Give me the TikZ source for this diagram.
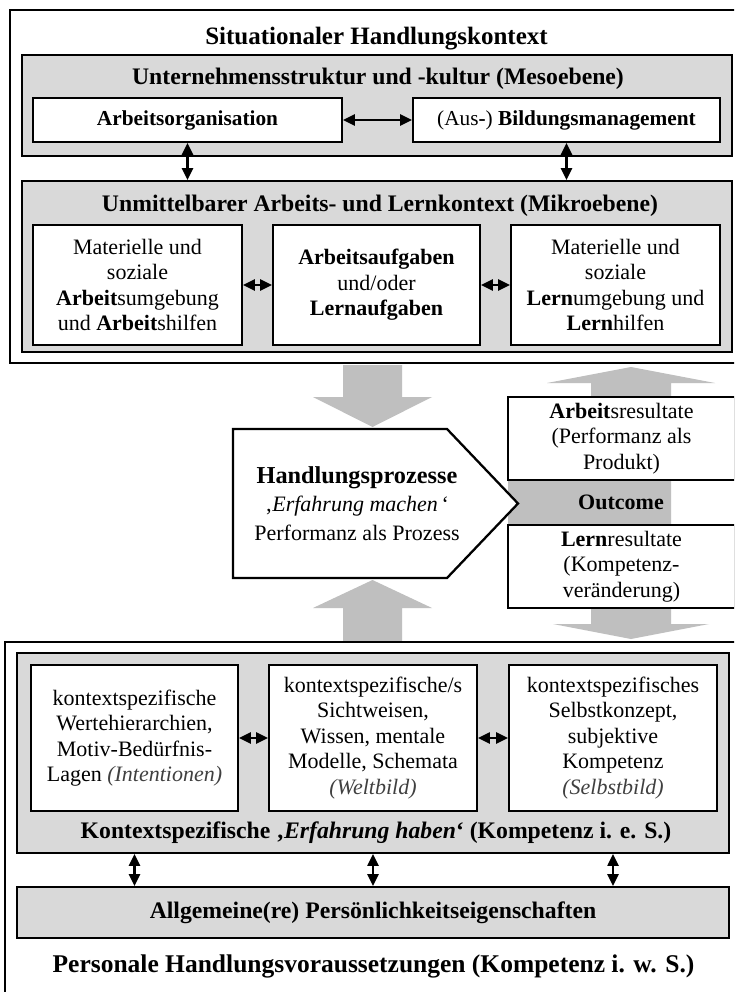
\documentclass[tikz,border=0pt]{standalone}
\usepackage{fontspec}
\setmainfont{Liberation Serif}
\usetikzlibrary{arrows.meta}
\definecolor{panelgrey}{HTML}{D9D9D9}
\definecolor{flowgrey}{HTML}{BFBFBF}
\definecolor{notegrey}{HTML}{404040}

\begin{document}
\begin{tikzpicture}[x=1pt,y=-1pt,
  frame/.style={draw=black, line width=2.9pt},
  panel/.style={draw=black, fill=panelgrey, line width=1.9pt, inner sep=0pt},
  card/.style={draw=black, fill=white, line width=1.9pt, inner sep=0pt, align=center,
               font=\fontsize{22}{25.5}\selectfont},
  result/.style={draw=black, fill=white, line width=2.4pt, inner sep=0pt, align=center,
               font=\fontsize{22}{25.5}\selectfont},
  link/.style={arrows={Triangle[length=12pt,width=11pt]-Triangle[length=12pt,width=11pt]}, line width=2.4pt},
  bigtitle/.style={anchor=base, font=\fontsize{25}{30}\selectfont\bfseries},
  heading/.style={anchor=base, font=\fontsize{23.7}{28}\selectfont\bfseries},
  flow/.style={fill=flowgrey, draw=none},
]
\useasboundingbox (0,0) rectangle (734,992);
\clip (0,0) rectangle (734,992);
\fill[white] (0,0) rectangle (734,992);

% ---------- situational context (top) ----------
\draw[frame] (10,10) rectangle (745,363);
\node[bigtitle] (sit) at (376.5,45) {Situationaler Handlungskontext};

\node[panel, minimum width=710pt, minimum height=101pt] (meso) at (377,105.5) {};
\node[heading] (mesotitle) at (378,85) {Unternehmensstruktur und -kultur (Mesoebene)};
\node[card, minimum width=309pt, minimum height=44pt, font=\fontsize{21.3}{25}\selectfont\bfseries]
  (ao) at (187.5,120) {Arbeitsorganisation};
\node[card, minimum width=307pt, minimum height=44pt, font=\fontsize{21.3}{25}\selectfont]
  (bm) at (566.5,120) {(Aus\textbf{-}) \textbf{Bildungsmanagement}};

\node[panel, minimum width=710pt, minimum height=171pt] (micro) at (377,266.5) {};
\node[heading] (microtitle) at (380,211.5) {Unmittelbarer Arbeits- und Lernkontext (Mikroebene)};
\node[card, minimum width=209pt, minimum height=120pt] (ml) at (137.5,285)
  {Materielle und\\soziale\\\textbf{Arbeit}sumgebung\\und \textbf{Arbeit}shilfen};
\node[card, minimum width=207pt, minimum height=120pt] (mm) at (376.5,285)
  {\textbf{Arbeitsaufgaben}\\und/oder\\\textbf{Lernaufgaben}};
\node[card, minimum width=209pt, minimum height=120pt] (mr) at (615.5,285)
  {Materielle und\\soziale\\\textbf{Lern}umgebung und\\\textbf{Lern}hilfen};

\draw[link] (ao.east) -- (bm.west);
\draw[link] (ao.south) -- (ao.south |- micro.north);
\draw[link] (bm.south) -- (bm.south |- micro.north);
\draw[link] (ml.east) -- (mm.west);
\draw[link] (mm.east) -- (mr.west);

% ---------- action processes and outcome (middle) ----------
\fill[flow] (343,365) -- (402,365) -- (402,397) -- (432,397) -- (372.5,427)
  -- (313,397) -- (343,397) -- cycle;
\fill[flow] (343,642) -- (343,608) -- (313,608) -- (372.5,580) -- (432,608)
  -- (402,608) -- (402,642) -- cycle;
\fill[flow] (591,383) -- (547,383) -- (631,367) -- (715,383) -- (671,383)
  -- (671,624) -- (709,624) -- (631,639) -- (553,624) -- (591,624) -- cycle;
\fill[flow] (508,480) rectangle (671,525);

\draw[fill=white, line width=2.3pt, line join=miter]
  (233,429) -- (447,429) -- (518,503.5) -- (447,578) -- (233,578) -- cycle;
\node[align=center, font=\fontsize{22}{28.5}\selectfont] (proc) at (357,503.5)
  {{\fontsize{24.3}{28.5}\selectfont\bfseries Handlungsprozesse}\\
   ‚\textit{Erfahrung machen}\,‘\\Performanz als Prozess};

\node[result, minimum width=227pt, minimum height=83pt] (work) at (621.5,438.5)
  {\textbf{Arbeit}sresultate\\(Performanz als\\Produkt)};
\node[result, minimum width=227pt, minimum height=83pt] (learn) at (621.5,566.5)
  {\textbf{Lern}resultate\\(Kompetenz-\\veränderung)};
\node[font=\fontsize{22}{25}\selectfont\bfseries] (outcome) at (621,502) {Outcome};

% ---------- personal prerequisites (bottom) ----------
\draw[frame] (5,642) rectangle (741,1000);
\node[panel, minimum width=712pt, minimum height=200pt] (ctx) at (373,753) {};
\node[card, minimum width=207pt, minimum height=146pt] (kl) at (134.5,738)
  {kontextspezifische\\Wertehierarchien,\\Motiv-Bedürfnis-\\Lagen {\color{notegrey}\itshape (Intentionen)}};
\node[card, minimum width=208pt, minimum height=146pt] (km) at (373,738)
  {kontextspezifische/s\\Sichtweisen,\\Wissen, mentale\\Modelle, Schemata\\{\color{notegrey}\itshape (Weltbild)}};
\node[card, minimum width=208pt, minimum height=146pt] (kr) at (613,738)
  {kontextspezifisches\\Selbstkonzept,\\subjektive\\Kompetenz\\{\color{notegrey}\itshape (Selbstbild)}};
\node[heading] (ctxtitle) at (376,838.5)
  {Kontextspezifische ‚\textit{Erfahrung haben}‘ (Kompetenz i. e. S.)};

\node[panel, minimum width=712pt, minimum height=51pt, font=\fontsize{23.7}{28}\selectfont\bfseries]
  (general) at (373,912.5) {Allgemeine(re) Persönlichkeitseigenschaften};
\node[anchor=base, font=\fontsize{25.5}{30}\selectfont\bfseries] (pers) at (373.5,972)
  {Personale Handlungsvoraussetzungen (Kompetenz i. w. S.)};

\draw[link] (kl.east) -- (km.west);
\draw[link] (km.east) -- (kr.west);
\draw[link] (kl.south |- ctx.south) -- (kl.south |- general.north);
\draw[link] (km.south |- ctx.south) -- (km.south |- general.north);
\draw[link] (kr.south |- ctx.south) -- (kr.south |- general.north);
\end{tikzpicture}
\end{document}
